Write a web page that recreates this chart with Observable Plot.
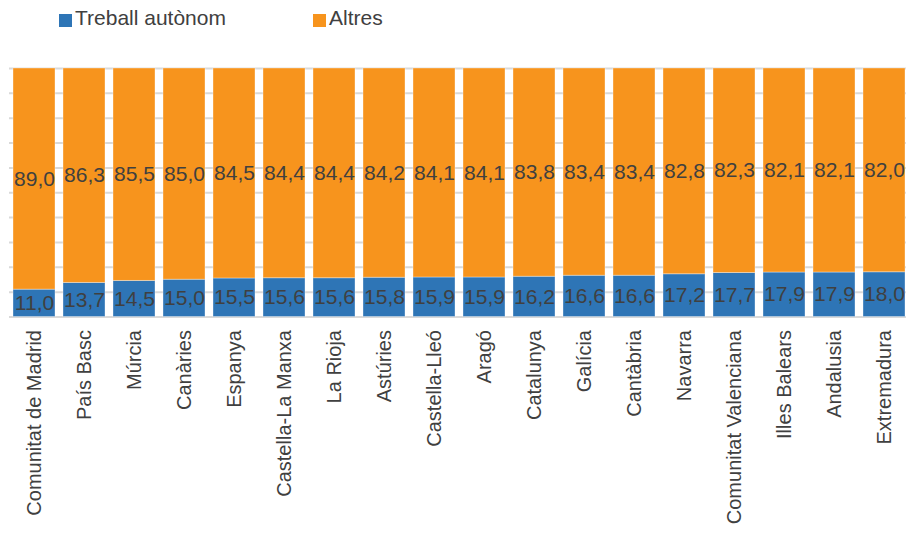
<!DOCTYPE html>
<html>
<head>
<meta charset="utf-8">
<script src="https://cdn.jsdelivr.net/npm/d3@7"></script>
<script src="https://cdn.jsdelivr.net/npm/@observablehq/plot@0.6"></script>
<style>
  html, body { margin: 0; padding: 0; background: #fff; }
  body { width: 906px; height: 539px; position: relative; overflow: hidden; font-family: "Liberation Sans", Arial, sans-serif; }
  #legend { position: absolute; left: 0; top: 0; width: 906px; height: 40px; color: #404040; font-size: 21px; }
  .item { position: absolute; top: 6px; display: flex; align-items: center; white-space: nowrap; }
  .sw { width: 13px; height: 13px; margin-right: 3px; margin-top: 4px; }
  #chart { position: absolute; left: 0; top: 0; }
</style>
</head>
<body>
<div id="chart"></div>
<div id="legend"></div>
<script>
const regions = ["Comunitat de Madrid","País Basc","Múrcia","Canàries","Espanya","Castella-La Manxa","La Rioja","Astúries","Castella-Lleó","Aragó","Catalunya","Galícia","Cantàbria","Navarra","Comunitat Valenciana","Illes Balears","Andalusia","Extremadura"];
const treballAutonom = [11.0,13.7,14.5,15.0,15.5,15.6,15.6,15.8,15.9,15.9,16.2,16.6,16.6,17.2,17.7,17.9,17.9,18.0];
const altres = [89.0,86.3,85.5,85.0,84.5,84.4,84.4,84.2,84.1,84.1,83.8,83.4,83.4,82.8,82.3,82.1,82.1,82.0];
const seriesNames = ["Treball autònom","Altres"];
const seriesColors = ["#2E75B6","#F7941D"];
const yTicks = [0,10,20,30,40,50,60,70,80,90,100];

const data = [];
regions.forEach((r, i) => {
  data.push({region: r, serie: seriesNames[0], value: treballAutonom[i]});
  data.push({region: r, serie: seriesNames[1], value: altres[i]});
});
const fmt = v => v.toFixed(1).replace(".", ",");

const plot = Plot.plot({
  width: 906,
  height: 539,
  marginTop: 68,
  marginBottom: 222.5,
  marginLeft: 9,
  marginRight: -3,
  style: {fontFamily: "'Liberation Sans', Arial, sans-serif", color: "#404040", background: "transparent"},
  x: {domain: regions, paddingInner: 0.17, paddingOuter: 0.085, label: null, axis: null},
  y: {domain: [0, 100], label: null, axis: null},
  color: {domain: seriesNames, range: seriesColors},
  marks: [
    Plot.ruleY(yTicks, {stroke: "#D9D9D9", strokeWidth: 2}),
    Plot.barY(data, Plot.stackY({x: "region", y: "value", fill: "serie", stroke: "#ffffff", strokeOpacity: 0.35, strokeWidth: 1})),
    Plot.text(data, Plot.stackY({x: "region", y: "value", z: "serie", text: d => fmt(d.value), fill: "#404040", fontSize: 21})),
    Plot.axisX({tickRotate: -90, tickSize: 0, tickPadding: 13, fontSize: 20, fill: "#404040", label: null}),
  ]
});
document.getElementById("chart").appendChild(plot);

const legend = document.getElementById("legend");
const legendX = [59, 313];
seriesNames.forEach((name, i) => {
  const it = document.createElement("div");
  it.className = "item";
  it.style.left = legendX[i] + "px";
  const sw = document.createElement("span");
  sw.className = "sw";
  sw.style.background = seriesColors[i];
  const tx = document.createElement("span");
  tx.textContent = name;
  it.appendChild(sw); it.appendChild(tx);
  legend.appendChild(it);
});
</script>
</body>
</html>
